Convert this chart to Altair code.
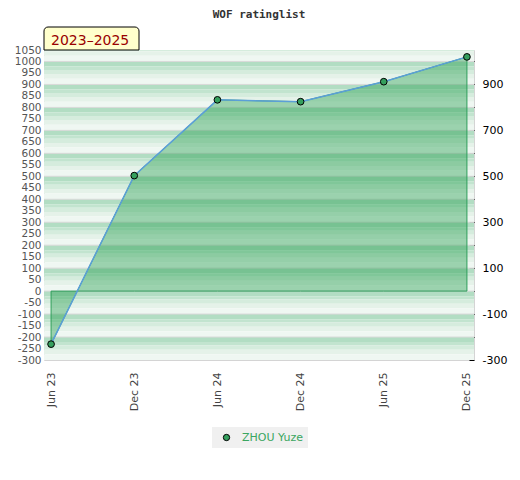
import altair as alt
import pandas as pd

# ---- data ----
periods = ["Jun 23", "Dec 23", "Jun 24", "Dec 24", "Jun 25", "Dec 25"]
ratings = [-231, 503, 833, 825, 912, 1020]
player = "ZHOU Yuze"
year_label = "2023\u20132025"
chart_title = "WOF ratinglist"
left_ticks = list(range(-300, 1051, 50))
right_ticks = list(range(-300, 1001, 100))

YMIN, YMAX = -300, 1050
W, H = 430, 310

df = pd.DataFrame({"period": periods, "rating": ratings, "player": [player] * len(periods)})

# ---- background stripes (decoration): shade and share of each 100-unit band ----
shades = ["#b2ddc3", "#c2e4cf", "#d5ecdd", "#e5f2e9", "#eff7f2"]
shares = [0.22, 0.15, 0.18, 0.20, 0.25]
stripes = []
for top in range(1100, YMIN, -100):
    t = top
    for c, s in zip(shades, shares):
        b = t - 100 * s
        t2, b2 = min(t, YMAX), max(b, YMIN)
        if t2 > b2:
            stripes.append({"t": t2, "b": b2, "c": c})
        t = b
stripe_df = pd.DataFrame(stripes)
rule_df = pd.DataFrame({"v": [v for v in range(-200, 1001, 100)]})

yscale = alt.Scale(domain=[YMIN, YMAX], nice=False, zero=False)
xscale = alt.Scale(type="point", padding=0.085)
font = "DejaVu Sans"

xaxis = alt.Axis(labelAngle=-90, ticks=False, domain=False, grid=False,
                 labelColor="#444444", labelFontSize=11, labelFont=font,
                 labelPadding=12)
xenc = alt.X("period:N", sort=periods, scale=xscale, title=None, axis=xaxis)

stripe_layer = alt.Chart(stripe_df).mark_rect(strokeWidth=0).encode(
    x=alt.value(0), x2=alt.value(W),
    y=alt.Y("t:Q", scale=yscale, title=None,
            axis=alt.Axis(orient="left", values=left_ticks, ticks=False, domain=False,
                          grid=False, labelColor="#555555", labelFontSize=10.5,
                          labelFont=font, labelPadding=3, labelOverlap=False,
                          labelExpr="'' + datum.value")),
    y2="b:Q",
    color=alt.Color("c:N", scale=None, legend=None),
)

rules = alt.Chart(rule_df).mark_rule(color="#d9d9d9", strokeWidth=1).encode(
    y=alt.Y("v:Q", scale=yscale, axis=None),
)

area = alt.Chart(df).mark_area(fill="#1f9a48", fillOpacity=0.4, stroke="#2e9e5a",
                               strokeWidth=1).encode(
    x=xenc,
    y=alt.Y("rating:Q", scale=yscale, title=None,
            axis=alt.Axis(orient="right", values=right_ticks, offset=-5, tickSize=5,
                          tickColor="#000000", domain=False, grid=False,
                          labelColor="#000000", labelFontSize=11, labelFont=font,
                          labelPadding=8,
                          labelExpr="(datum.value + 300) % 200 == 0 ? '' + datum.value : ''")),
    y2=alt.datum(0),
)

line = alt.Chart(df).mark_line(color="#5b9fd8", strokeWidth=1.5).encode(
    x=xenc,
    y=alt.Y("rating:Q", scale=yscale, axis=None),
)

points = alt.Chart(df).mark_point(filled=True, size=45, stroke="#000000", strokeWidth=1,
                                  opacity=1).encode(
    x=xenc,
    y=alt.Y("rating:Q", scale=yscale, axis=None),
    fill=alt.Fill("player:N", scale=alt.Scale(range=["#35a05e"]),
                  legend=alt.Legend(title=None, orient="none", legendX=168, legendY=377,
                                    fillColor="#f0f0f0", padding=5, symbolType="circle",
                                    symbolSize=40, symbolStrokeColor="#000000",
                                    symbolStrokeWidth=1, symbolOffset=4,
                                    labelColor="#3aa660", labelFontSize=11,
                                    labelFont=font, labelOffset=10)),
)

box_df = pd.DataFrame({"label": [year_label]})
box = alt.Chart(box_df).mark_rect(fill="#ffffcc", stroke="#000000", strokeWidth=1,
                                  cornerRadiusTopLeft=4, cornerRadiusTopRight=4).encode(
    x=alt.value(0), x2=alt.value(95), y=alt.value(-23), y2=alt.value(0),
)
box_text = alt.Chart(box_df).mark_text(align="left", baseline="alphabetic", fontSize=14,
                                       font=font, color="#990000").encode(
    x=alt.value(7), y=alt.value(-5), text="label:N",
)

chart = alt.layer(stripe_layer, rules, area, line, points, box, box_text).resolve_scale(
    y="shared", x="shared"
).resolve_axis(y="independent").properties(
    width=W, height=H,
    title=alt.TitleParams(chart_title, font="DejaVu Sans Mono", fontWeight="bold",
                          fontSize=11, color="#333333", offset=7, anchor="middle"),
    padding={"left": 6, "top": 0, "right": 5, "bottom": 5},
).configure_view(stroke="#d4d4d4", strokeWidth=1)

chart.save("out.html", embed_options={"renderer": "svg", "actions": False})
